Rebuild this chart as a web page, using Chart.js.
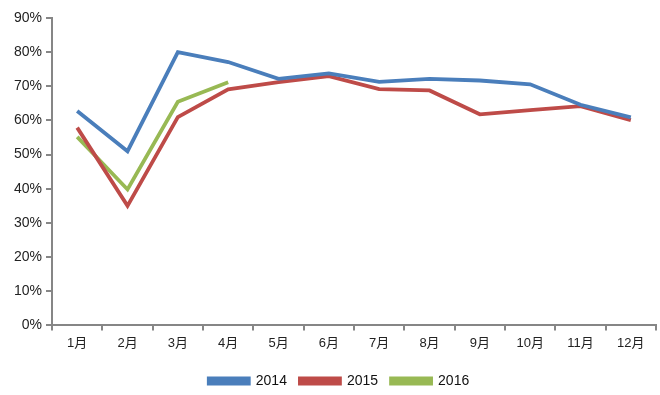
<!DOCTYPE html>
<html>
<head>
<meta charset="utf-8">
<script src="https://cdn.jsdelivr.net/npm/chart.js@4/dist/chart.umd.min.js"></script>
<style>
  html, body { margin: 0; padding: 0; background: #fff; }
  #wrap { width: 660px; height: 395px; position: relative; }
</style>
</head>
<body>
<div id="wrap"><canvas id="lineChart"></canvas></div>
<script>
const months = ['1月', '2月', '3月', '4月', '5月', '6月', '7月', '8月', '9月', '10月', '11月', '12月'];
const data2014 = [62.8, 51.0, 80.0, 77.1, 72.2, 73.8, 71.3, 72.2, 71.7, 70.6, 64.6, 60.9];
const data2015 = [57.9, 35.0, 61.0, 69.1, 71.2, 73.0, 69.2, 68.8, 61.8, 63.0, 64.2, 60.1];
const data2016 = [55.2, 39.8, 65.5, 71.2];
const yTicks = [0, 10, 20, 30, 40, 50, 60, 70, 80, 90];

const fontFamily = '"Liberation Sans", Arial, "Noto Sans CJK SC", sans-serif';
const axisColor = '#868686';

// legend in the original sits a little right of centre
const shiftLegend = {
    id: 'shiftLegend',
    afterLayout(chart) {
        if (chart.legend) {
            chart.legend.left += 6;
            chart.legend.right += 6;
        }
    }
};

document.addEventListener('DOMContentLoaded', function() {
    const ctx = document.getElementById('lineChart').getContext('2d');

    function series(label, values, color) {
        return {
            label: label,
            data: values,
            borderColor: color,
            backgroundColor: color,
            borderWidth: 3.8,
            pointRadius: 0,
            tension: 0,
            fill: false
        };
    }

    new Chart(ctx, {
        type: 'line',
        data: {
            labels: months,
            datasets: [
                series('2014', data2014, '#4A7EBB'),
                series('2015', data2015, '#BE4B48'),
                series('2016', data2016, '#98B954')
            ]
        },
        plugins: [shiftLegend],
        options: {
            responsive: true,
            maintainAspectRatio: false,
            animation: false,
            layout: {
                padding: { left: 10, right: 4, top: 18, bottom: -3 }
            },
            plugins: {
                tooltip: { enabled: false },
                legend: {
                    position: 'bottom',
                    labels: {
                        boxWidth: 40,
                        boxHeight: 5,
                        padding: 13,
                        color: '#111',
                        font: { family: fontFamily, size: 14 }
                    }
                }
            },
            scales: {
                x: {
                    offset: true,
                    afterFit: function(scale) {
                        scale.height += 5;
                    },
                    grid: {
                        offset: true,
                        drawOnChartArea: false,
                        color: axisColor,
                        lineWidth: 2,
                        tickLength: 5
                    },
                    border: { color: axisColor, width: 2 },
                    ticks: {
                        color: '#222',
                        padding: 5,
                        maxRotation: 0,
                        font: { family: fontFamily, size: 13 }
                    }
                },
                y: {
                    min: 0,
                    max: 90,
                    afterBuildTicks: function(axis) {
                        axis.ticks = yTicks.map(v => ({ value: v }));
                    },
                    grid: {
                        drawOnChartArea: false,
                        color: axisColor,
                        lineWidth: 2,
                        tickLength: 6
                    },
                    border: { color: axisColor, width: 2 },
                    ticks: {
                        color: '#222',
                        padding: 4,
                        callback: v => v + '%',
                        font: { family: fontFamily, size: 14 }
                    }
                }
            }
        }
    });
});
</script>
</body>
</html>
